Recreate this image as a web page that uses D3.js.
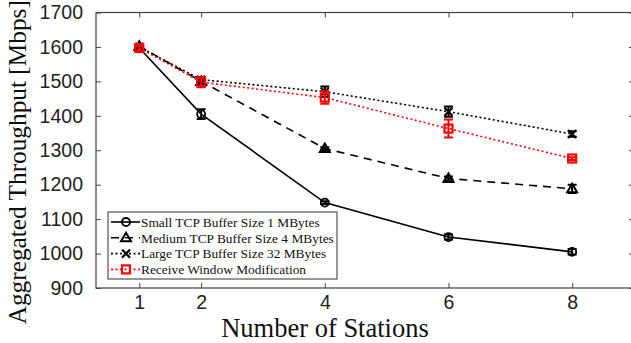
<!DOCTYPE html>
<html><head><meta charset="utf-8">
<script src="https://cdn.jsdelivr.net/npm/d3@7"></script>
<style>body{margin:0;background:#fff}svg{display:block}</style>
</head><body>
<script>
const stations = [1, 2, 4, 6, 8];
const xTicks = [1, 2, 4, 6, 8];
const yTicks = [900, 1000, 1100, 1200, 1300, 1400, 1500, 1600, 1700];
const seriesNames = ["Small TCP Buffer Size 1 MBytes", "Medium TCP Buffer Size 4 MBytes", "Large TCP Buffer Size 32 MBytes", "Receive Window Modification"];
const smallVals = [1597, 1405, 1148, 1048, 1005];
const smallErr = [6, 14, 4, 7, 8];
const mediumVals = [1602, 1500, 1305, 1218, 1188];
const mediumErr = [5, 8, 4, 6, 12];
const largeVals = [1600, 1505, 1470, 1412, 1347];
const largeErr = [5, 8, 15, 15, 8];
const rwmVals = [1597, 1498, 1453, 1363, 1276];
const rwmErr = [6, 15, 18, 26, 4];

const W = 631, H = 343;
const svg = d3.select("body").append("svg").attr("width", W).attr("height", H);
const x = d3.scaleLinear().domain([0.3, 9]).range([96, 634]);
const y = d3.scaleLinear().domain([900, 1700]).range([288, 12.5]);

const axisColor = "#444";
svg.append("rect").attr("x", x(0.3)).attr("y", y(1700)).attr("width", x(9) - x(0.3)).attr("height", y(900) - y(1700))
  .attr("fill", "none").attr("stroke", axisColor).attr("stroke-width", 1.2);

const gx = svg.append("g").attr("transform", `translate(0,${y(900)})`)
  .call(d3.axisBottom(x).tickValues(xTicks).tickSize(-5).tickPadding(7).tickFormat(d3.format("d")));
const gxt = svg.append("g").attr("transform", `translate(0,${y(1700)})`)
  .call(d3.axisTop(x).tickValues(xTicks).tickSize(-5).tickFormat(""));
const gy = svg.append("g").attr("transform", `translate(${x(0.3)},0)`)
  .call(d3.axisLeft(y).tickValues(yTicks).tickSize(-5).tickPadding(13).tickFormat(d3.format("d")));
const gyr = svg.append("g").attr("transform", `translate(${x(9)},0)`)
  .call(d3.axisRight(y).tickValues(yTicks).tickSize(-5).tickFormat(""));
[gx, gxt, gy, gyr].forEach(g => {
  g.select(".domain").remove();
  g.selectAll("line").attr("stroke", axisColor);
  g.selectAll("text").attr("font-family", "Liberation Sans, Arial, sans-serif").attr("font-size", 19.5).attr("fill", "#222");
});

svg.append("text").attr("x", 325).attr("y", 337).attr("text-anchor", "middle")
  .attr("font-family", "Liberation Serif, Times New Roman, serif").attr("font-size", 26.5).attr("fill", "#111")
  .text("Number of Stations");
svg.append("text").attr("transform", `translate(26,${(y(900) + y(1700)) / 2 + 12}) rotate(-90)`).attr("text-anchor", "middle")
  .attr("font-family", "Liberation Serif, Times New Roman, serif").attr("font-size", 25.3).attr("fill", "#111")
  .text("Aggregated Throughput [Mbps]");

const series = [
  {name: seriesNames[0], vals: smallVals, err: smallErr, color: "#000", dash: null, marker: "circle"},
  {name: seriesNames[1], vals: mediumVals, err: mediumErr, color: "#000", dash: "8,6", marker: "triangle"},
  {name: seriesNames[2], vals: largeVals, err: largeErr, color: "#000", dash: "2,2.5", marker: "x"},
  {name: seriesNames[3], vals: rwmVals, err: rwmErr, color: "#f00", dash: "2,2.5", marker: "square"}
];

function drawMarker(g, type, cx, cy, color) {
  if (type === "circle") {
    g.append("circle").attr("cx", cx).attr("cy", cy).attr("r", 4).attr("fill", "none").attr("stroke", color).attr("stroke-width", 1.8);
  } else if (type === "triangle") {
    g.append("path").attr("d", `M${cx},${cy - 5}L${cx + 5},${cy + 3.5}L${cx - 5},${cy + 3.5}Z`).attr("fill", "none").attr("stroke", color).attr("stroke-width", 2);
  } else if (type === "x") {
    g.append("path").attr("d", `M${cx - 4},${cy - 4}L${cx + 4},${cy + 4}M${cx - 4},${cy + 4}L${cx + 4},${cy - 4}`).attr("stroke", color).attr("stroke-width", 2.2);
  } else {
    g.append("rect").attr("x", cx - 4).attr("y", cy - 4).attr("width", 8).attr("height", 8).attr("fill", "none").attr("stroke", color).attr("stroke-width", 2.2);
  }
}

const line = d3.line().x(d => x(d[0])).y(d => y(d[1]));
series.forEach(s => {
  const g = svg.append("g");
  const pts = stations.map((st, i) => [st, s.vals[i]]);
  g.append("path").attr("d", line(pts)).attr("fill", "none").attr("stroke", s.color).attr("stroke-width", 1.6)
    .attr("stroke-dasharray", s.dash);
  stations.forEach((st, i) => {
    const cx = x(st), y0 = y(s.vals[i] - s.err[i]), y1 = y(s.vals[i] + s.err[i]);
    g.append("path").attr("d", `M${cx},${y0}L${cx},${y1}M${cx - 4.5},${y0}L${cx + 4.5},${y0}M${cx - 4.5},${y1}L${cx + 4.5},${y1}`)
      .attr("stroke", s.color).attr("stroke-width", 2).attr("fill", "none");
    drawMarker(g, s.marker, cx, y(s.vals[i]), s.color);
  });
});

// legend
const lg = svg.append("g").attr("transform", "translate(108,212)");
lg.append("rect").attr("width", 229).attr("height", 67).attr("fill", "#fff").attr("stroke", "#333").attr("stroke-width", 1);
series.forEach((s, i) => {
  const yy = 10 + i * 15.8;
  lg.append("line").attr("x1", 3).attr("x2", 32).attr("y1", yy).attr("y2", yy).attr("stroke", s.color).attr("stroke-width", 1.6)
    .attr("stroke-dasharray", s.dash);
  drawMarker(lg, s.marker, 18, yy, s.color);
  lg.append("text").attr("x", 33).attr("y", yy + 4.8).attr("font-family", "Liberation Serif, Times New Roman, serif")
    .attr("font-size", 13.4).attr("fill", "#111").text(s.name);
});
</script>
</body></html>
